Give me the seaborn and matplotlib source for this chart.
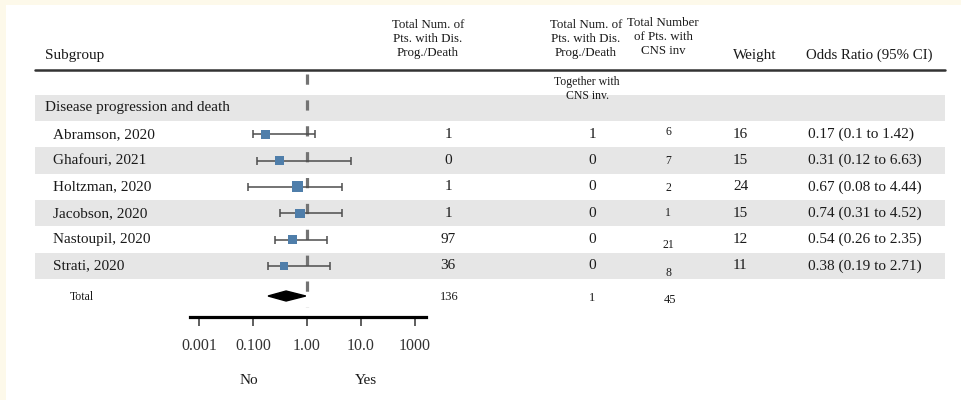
import numpy as np
import pandas as pd
import matplotlib
matplotlib.use("Agg")
import matplotlib.pyplot as plt
from matplotlib.patches import Rectangle
from matplotlib.ticker import NullLocator
import seaborn as sns

# ---------------- data ----------------
studies = ["Abramson, 2020", "Ghafouri, 2021", "Holtzman, 2020",
           "Jacobson, 2020", "Nastoupil, 2020", "Strati, 2020"]
odds_ratio = [0.17, 0.31, 0.67, 0.74, 0.54, 0.38]
ci_low = [0.10, 0.12, 0.08, 0.31, 0.26, 0.19]
ci_high = [1.42, 6.63, 4.44, 4.52, 2.35, 2.71]
weights = [16, 15, 24, 15, 12, 11]
n_prog_death = [1, 0, 1, 1, 97, 36]
n_prog_death_cns = [1, 0, 0, 0, 0, 0]
n_cns = [6, 7, 2, 1, 21, 8]
total_prog_death = 136
total_prog_death_cns = 1
total_cns = 45
pooled_or = 0.41
pooled_low = 0.19
pooled_high = 0.95
tick_values = [0.01, 0.1, 1, 10, 100]
tick_labels = ["0.001", "0.100", "1.00", "10.0", "1000"]
group_label = "Disease progression and death"

# ---------------- layout ----------------
W, H = 961, 400
x_left, x_right, x_one, px_per_dec = 190, 426, 307, 54
y_axis = 317
row0_y, row_h = 108, 26.3
y_total = 296
cns_label_dy = [-2, 0, 1, 0, 6, 7]
txt = "#1a1a1a"

sns.set_theme(style="white")
plt.rcParams['font.family'] = ['Liberation Serif', 'DejaVu Serif']

fig = plt.figure(figsize=(W / 100, H / 100), dpi=100)
fig.patch.set_facecolor('#fdf9ea')

tab = fig.add_axes([0, 0, 1, 1])
tab.set_xlim(0, W)
tab.set_ylim(H, 0)
tab.axis('off')
tab.add_patch(Rectangle((6, 5), W - 6, H - 5, facecolor='white', edgecolor='none', zorder=0))

# gray bands
for k in range(7):
    if k % 2 == 0:
        yc = row0_y + row_h * k
        tab.add_patch(Rectangle((35, yc - row_h / 2), 910, row_h,
                                facecolor='#e6e6e6', edgecolor='none', zorder=1))
# header rule
tab.plot([35, 945], [70, 70], color='#333333', lw=1.8, zorder=2)

# headers
tab.text(45, 56, "Subgroup", fontsize=11, va='center', ha='left', color=txt)
for i, line in enumerate(["Total Num. of", "Pts. with Dis.", "Prog./Death"]):
    tab.text(428, 25 + 14 * i, line, fontsize=9.3, ha='center', va='center', color=txt)
    tab.text(586, 25 + 14 * i, line, fontsize=9.3, ha='center', va='center', color=txt)
for i, line in enumerate(["Total Number", "of Pts. with", "CNS inv"]):
    tab.text(663, 23 + 14 * i, line, fontsize=9.3, ha='center', va='center', color=txt)
tab.text(733, 55, "Weight", fontsize=11, ha='left', va='center', color=txt)
tab.text(806, 55, "Odds Ratio (95% CI)", fontsize=10.7, ha='left', va='center', color=txt)
tab.text(587, 82, "Together with", fontsize=8.5, ha='center', va='center', color=txt)
tab.text(587, 96, "CNS inv.", fontsize=8.5, ha='center', va='center', color=txt)

tab.text(45, row0_y, group_label, fontsize=11, ha='left', va='center', color=txt)

ys = row0_y + row_h * np.arange(1, len(studies) + 1)
for i, name in enumerate(studies):
    y = ys[i]
    tab.text(53, y, name, fontsize=11, ha='left', va='center', color=txt)
    tab.text(448, y, str(n_prog_death[i]), fontsize=11, ha='center', va='center', color=txt)
    tab.text(592, y, str(n_prog_death_cns[i]), fontsize=11, ha='center', va='center', color=txt)
    tab.text(668, y + cns_label_dy[i], str(n_cns[i]), fontsize=8.5, ha='center', va='center', color=txt)
    tab.text(733, y, str(weights[i]), fontsize=11, ha='left', va='center', color=txt)
    tab.text(808, y, f"{odds_ratio[i]:.2f} ({ci_low[i]:g} to {ci_high[i]:g})",
             fontsize=11, ha='left', va='center', color=txt)

tab.text(70, y_total + 1, "Total", fontsize=8.5, ha='left', va='center', color=txt)
tab.text(449, y_total + 1, str(total_prog_death), fontsize=9, ha='center', va='center', color=txt)
tab.text(592, y_total + 2, str(total_prog_death_cns), fontsize=9, ha='center', va='center', color=txt)
tab.text(670, y_total + 4, str(total_cns), fontsize=9, ha='center', va='center', color=txt)

tab.text(249, 380, "No", fontsize=11, ha='center', va='center', color=txt)
tab.text(366, 380, "Yes", fontsize=11, ha='center', va='center', color=txt)

# ---------------- forest axes ----------------
fa = fig.add_axes([x_left / W, (H - y_axis) / H, (x_right - x_left) / W, y_axis / H])
fa.patch.set_alpha(0)

df = pd.DataFrame({"study": studies, "or": odds_ratio, "lo": ci_low, "hi": ci_high,
                   "weight": weights, "y": ys})

fa.plot([1, 1], [74, 307], color='#737373', lw=2.3, linestyle=(0, (3.2, 4.9)),
        solid_capstyle='butt', zorder=1)
fa.hlines(df["y"], df["lo"], df["hi"], color='#4d4d4d', lw=1.1, zorder=2)
fa.vlines(df["lo"], df["y"] - 4, df["y"] + 4, color='#4d4d4d', lw=1.1, zorder=2)
fa.vlines(df["hi"], df["y"] - 4, df["y"] + 4, color='#4d4d4d', lw=1.1, zorder=2)
sns.scatterplot(data=df, x="or", y="y", size="weight", sizes=(36, 62), size_norm=(11, 24),
                marker='s', color='#4f7eaa', edgecolor='none', legend=False, ax=fa, zorder=3)
fa.fill([pooled_low, pooled_or, pooled_high, pooled_or],
        [y_total, y_total - 5, y_total, y_total + 5], color='black', zorder=3)

fa.set_xscale('log')
fa.set_xlim(10 ** ((x_left - x_one) / px_per_dec), 10 ** ((x_right - x_one) / px_per_dec))
fa.set_ylim(y_axis, 0)
fa.set_xlabel("")
fa.set_ylabel("")
for s in ['top', 'right', 'left']:
    fa.spines[s].set_visible(False)
fa.spines['bottom'].set_linewidth(2.3)
fa.spines['bottom'].set_color('black')
fa.set_xticks(tick_values)
fa.set_xticklabels(tick_labels)
fa.xaxis.set_minor_locator(NullLocator())
fa.tick_params(axis='x', bottom=True, direction='out', length=6.5, width=1.1,
               color='#333333', pad=8.5, labelsize=11.5, labelcolor='#333333')
fa.set_yticks([])

fig.savefig("out.png", dpi=100, facecolor=fig.get_facecolor())
